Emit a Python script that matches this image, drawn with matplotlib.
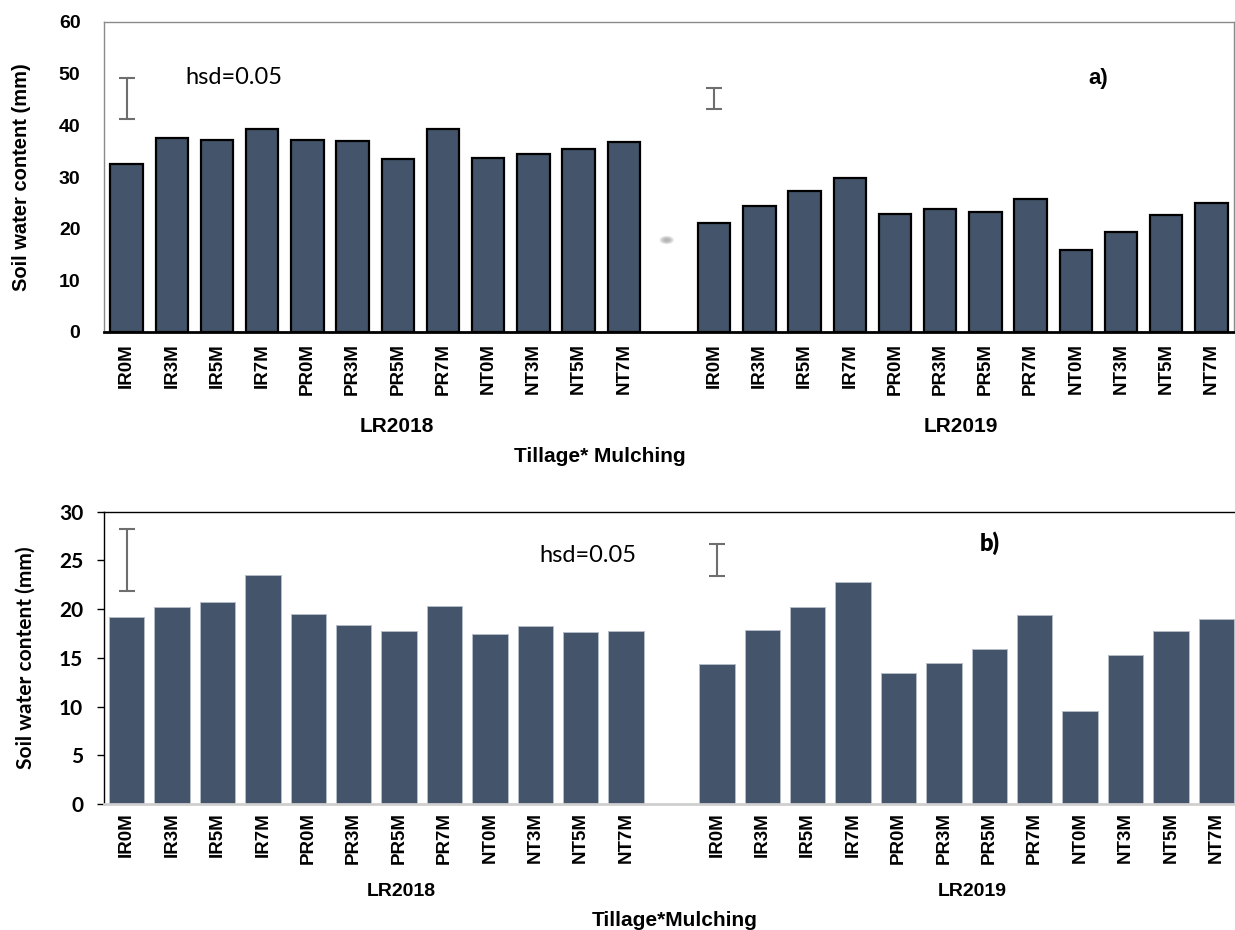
import matplotlib.pyplot as plt
from matplotlib.patches import Ellipse

# treatment labels and soil water content (mm) per season
treatments = ['IR0M', 'IR3M', 'IR5M', 'IR7M', 'PR0M', 'PR3M',
              'PR5M', 'PR7M', 'NT0M', 'NT3M', 'NT5M', 'NT7M']
seasons = ['LR2018', 'LR2019']

swc_a_2018 = [32.6, 37.5, 37.1, 39.2, 37.1, 37.0, 33.5, 39.3, 33.7, 34.4, 35.4, 36.8]
swc_a_2019 = [21.1, 24.4, 27.2, 29.8, 22.9, 23.8, 23.2, 25.8, 15.9, 19.3, 22.6, 25.0]
swc_b_2018 = [19.2, 20.2, 20.7, 23.5, 19.5, 18.4, 17.7, 20.3, 17.4, 18.3, 17.6, 17.7]
swc_b_2019 = [14.4, 17.8, 20.2, 22.8, 13.4, 14.5, 15.9, 19.4, 9.5, 15.3, 17.7, 19.0]

# hsd ranges (low, high) for each season
hsd_a = [(41.2, 49.1), (43.1, 47.3)]
hsd_b = [(21.8, 28.2), (23.4, 26.7)]

bar_color = '#44546a'
arial = 'Liberation Sans'
calibri = 'Lato'

W, H = 1235, 930
fig = plt.figure(figsize=(W / 100, H / 100), dpi=100)

# one empty slot between the two seasons
x18 = list(range(12))
x19 = [i + 13 for i in range(12)]
xpos = x18 + x19


def box(left, top, right, bottom):
    return [left / W, 1 - bottom / H, (right - left) / W, (bottom - top) / H]


# ---------------- a) ----------------
ax1 = fig.add_axes(box(104, 22, 1234, 332))
ax1.bar(xpos, swc_a_2018 + swc_a_2019, width=0.72, color=bar_color,
        edgecolor='black', linewidth=1.6, zorder=2)
for x, (lo, hi) in zip([0, 13], hsd_a):
    ax1.errorbar(x, (lo + hi) / 2, yerr=(hi - lo) / 2, fmt='none', ecolor='#6e6e6e',
                 elinewidth=1.5, capsize=6, capthick=1.5, zorder=3)
# small grey smudge between the seasons
for k in range(5):
    ax1.add_patch(Ellipse((11.95, 17.8), 0.32 - k * 0.05, 1.6 - k * 0.25,
                          color='#8c8c8c', alpha=0.18, lw=0, zorder=1))

ax1.set_xlim(-0.5, 24.5)
ax1.set_ylim(0, 60)
ax1.set_yticks(range(0, 61, 10))
ax1.set_xticks(xpos)
ax1.set_xticklabels(treatments * 2, rotation=90, fontsize=13.5, fontweight='bold', family=arial)
ax1.tick_params(axis='x', length=0, pad=8)
ax1.tick_params(axis='y', length=0, pad=17)
for lab in ax1.get_yticklabels():
    lab.set_fontsize(14)
    lab.set_fontweight('bold')
    lab.set_family(arial)
for s in ['top', 'right', 'left']:
    ax1.spines[s].set_color('#8a8a8a')
    ax1.spines[s].set_linewidth(1.0)
ax1.spines['bottom'].set_color('black')
ax1.spines['bottom'].set_linewidth(2.0)
ax1.set_ylabel('Soil water content (mm)', fontsize=14.5, fontweight='bold', family=arial)
ax1.yaxis.set_label_coords(-0.065, 0.5)
ax1.text(1.29, 49.3, 'hsd=0.05', fontsize=17, family=calibri, va='center', ha='left')
ax1.text(21.5, 49.1, 'a)', fontsize=16, fontweight='bold', family=arial, va='center', ha='center')

fig.text(397 / W, 1 - 426 / H, seasons[0], fontsize=15, fontweight='bold', family=arial,
         ha='center', va='center')
fig.text(961 / W, 1 - 426 / H, seasons[1], fontsize=15, fontweight='bold', family=arial,
         ha='center', va='center')
fig.text(600 / W, 1 - 456 / H, 'Tillage* Mulching', fontsize=15, fontweight='bold', family=arial,
         ha='center', va='center')

# ---------------- b) ----------------
ax2 = fig.add_axes(box(104, 511.5, 1239, 804))
ax2.bar(xpos, swc_b_2018 + swc_b_2019, width=0.78, color=bar_color,
        edgecolor='#b4bcc8', linewidth=0.7, zorder=2)
for x, (lo, hi) in zip([0, 13], hsd_b):
    ax2.errorbar(x, (lo + hi) / 2, yerr=(hi - lo) / 2, fmt='none', ecolor='#6e6e6e',
                 elinewidth=1.5, capsize=6, capthick=1.5, zorder=3)

ax2.set_xlim(-0.5, 24.5)
ax2.set_ylim(0, 30)
ax2.set_yticks(range(0, 31, 5))
ax2.set_xticks(xpos)
ax2.set_xticklabels(treatments * 2, rotation=90, fontsize=13.5, fontweight='bold', family=arial)
ax2.tick_params(axis='x', length=0, pad=6)
ax2.tick_params(axis='y', length=5, width=1, color='black', pad=10)
for lab in ax2.get_yticklabels():
    lab.set_fontsize(15)
    lab.set_fontweight('bold')
    lab.set_family(calibri)
ax2.spines['right'].set_visible(False)
ax2.spines['top'].set_color('black')
ax2.spines['top'].set_linewidth(1.0)
ax2.spines['left'].set_color('black')
ax2.spines['left'].set_linewidth(1.0)
ax2.spines['bottom'].set_color('#cfcfcf')
ax2.spines['bottom'].set_linewidth(2.0)
ax2.set_ylabel('Soil water content (mm)', fontsize=15, fontweight='bold', family=calibri)
ax2.yaxis.set_label_coords(-0.06, 0.5)
ax2.text(9.08, 25.5, 'hsd=0.05', fontsize=17, family=calibri, va='center', ha='left')
ax2.text(19.0, 26.8, 'b)', fontsize=17, fontweight='heavy', family=calibri, va='center', ha='center')

fig.text(401 / W, 1 - 891 / H, seasons[0], fontsize=14, fontweight='bold', family=arial,
         ha='center', va='center')
fig.text(972 / W, 1 - 891 / H, seasons[1], fontsize=14, fontweight='bold', family=arial,
         ha='center', va='center')
fig.text(675 / W, 1 - 920 / H, 'Tillage*Mulching', fontsize=15, fontweight='bold', family=arial,
         ha='center', va='center')

fig.savefig('out.png', dpi=100)
